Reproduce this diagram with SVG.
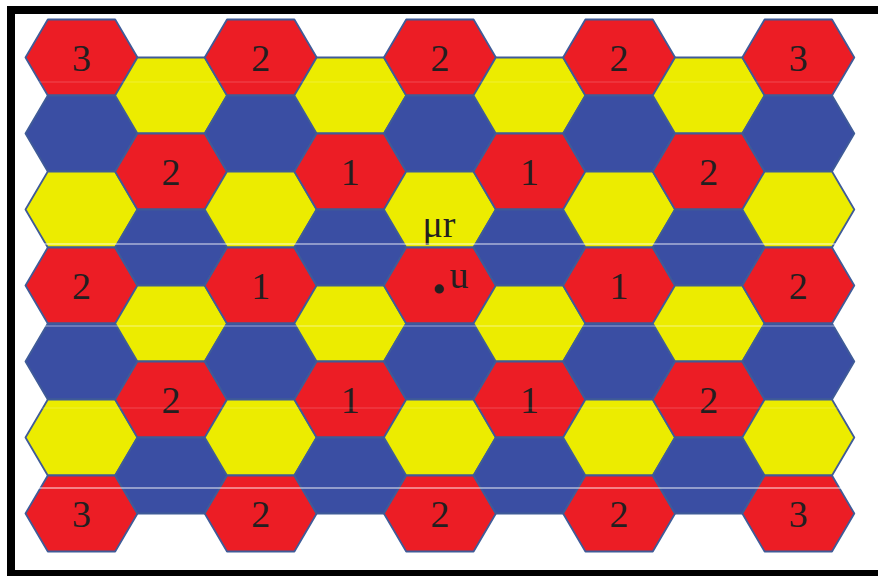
<svg xmlns="http://www.w3.org/2000/svg" xmlns:xlink="http://www.w3.org/1999/xlink" width="878" height="576" viewBox="0 0 878 576">
<style>
.hex{stroke:#3f5b98;stroke-width:1.8;stroke-linejoin:round}
.red .hex{fill:#ec1d25}
.yel .hex{fill:#ecec00}
.blu .hex{fill:#3a4ea3}
.lbl{font-family:"Liberation Serif","Times New Roman",serif;font-size:38px;fill:#231f20;text-anchor:middle}
.art{stroke:#ffffff;stroke-width:1.2}
</style>
<defs>
<polygon id="hx" points="-56,0 -33.7,-38 33.7,-38 56,0 33.7,38 -33.7,38"/>
</defs>
<rect x="0" y="0" width="878" height="576" fill="#ffffff"/>
<g id="frame" fill="#000000">
<rect x="7" y="6" width="8" height="570"/>
<rect x="7" y="6" width="871" height="8"/>
<rect x="7" y="570" width="871" height="6"/>
</g>
<g id="hexes">
<!-- column 0 -->
<g id="c0r0" class="red" transform="translate(81.5,57.5)"><use href="#hx" class="hex"/><text class="lbl" y="13">3</text></g>
<g id="c0r1" class="blu" transform="translate(81.5,133.5)"><use href="#hx" class="hex"/></g>
<g id="c0r2" class="yel" transform="translate(81.5,209.5)"><use href="#hx" class="hex"/></g>
<g id="c0r3" class="red" transform="translate(81.5,285.5)"><use href="#hx" class="hex"/><text class="lbl" y="13">2</text></g>
<g id="c0r4" class="blu" transform="translate(81.5,361.5)"><use href="#hx" class="hex"/></g>
<g id="c0r5" class="yel" transform="translate(81.5,437.5)"><use href="#hx" class="hex"/></g>
<g id="c0r6" class="red" transform="translate(81.5,513.5)"><use href="#hx" class="hex"/><text class="lbl" y="13">3</text></g>
<!-- column 1 -->
<g id="c1r0" class="yel" transform="translate(171.1,95.5)"><use href="#hx" class="hex"/></g>
<g id="c1r1" class="red" transform="translate(171.1,171.5)"><use href="#hx" class="hex"/><text class="lbl" y="13">2</text></g>
<g id="c1r2" class="blu" transform="translate(171.1,247.5)"><use href="#hx" class="hex"/></g>
<g id="c1r3" class="yel" transform="translate(171.1,323.5)"><use href="#hx" class="hex"/></g>
<g id="c1r4" class="red" transform="translate(171.1,399.5)"><use href="#hx" class="hex"/><text class="lbl" y="13">2</text></g>
<g id="c1r5" class="blu" transform="translate(171.1,475.5)"><use href="#hx" class="hex"/></g>
<!-- column 2 -->
<g id="c2r0" class="red" transform="translate(260.7,57.5)"><use href="#hx" class="hex"/><text class="lbl" y="13">2</text></g>
<g id="c2r1" class="blu" transform="translate(260.7,133.5)"><use href="#hx" class="hex"/></g>
<g id="c2r2" class="yel" transform="translate(260.7,209.5)"><use href="#hx" class="hex"/></g>
<g id="c2r3" class="red" transform="translate(260.7,285.5)"><use href="#hx" class="hex"/><text class="lbl" y="13">1</text></g>
<g id="c2r4" class="blu" transform="translate(260.7,361.5)"><use href="#hx" class="hex"/></g>
<g id="c2r5" class="yel" transform="translate(260.7,437.5)"><use href="#hx" class="hex"/></g>
<g id="c2r6" class="red" transform="translate(260.7,513.5)"><use href="#hx" class="hex"/><text class="lbl" y="13">2</text></g>
<!-- column 3 -->
<g id="c3r0" class="yel" transform="translate(350.3,95.5)"><use href="#hx" class="hex"/></g>
<g id="c3r1" class="red" transform="translate(350.3,171.5)"><use href="#hx" class="hex"/><text class="lbl" y="13">1</text></g>
<g id="c3r2" class="blu" transform="translate(350.3,247.5)"><use href="#hx" class="hex"/></g>
<g id="c3r3" class="yel" transform="translate(350.3,323.5)"><use href="#hx" class="hex"/></g>
<g id="c3r4" class="red" transform="translate(350.3,399.5)"><use href="#hx" class="hex"/><text class="lbl" y="13">1</text></g>
<g id="c3r5" class="blu" transform="translate(350.3,475.5)"><use href="#hx" class="hex"/></g>
<!-- column 4 -->
<g id="c4r0" class="red" transform="translate(439.9,57.5)"><use href="#hx" class="hex"/><text class="lbl" y="13">2</text></g>
<g id="c4r1" class="blu" transform="translate(439.9,133.5)"><use href="#hx" class="hex"/></g>
<g id="c4r2" class="yel" transform="translate(439.9,209.5)"><use href="#hx" class="hex"/><text class="lbl" x="-1" y="27.5" font-size="40">μr</text></g>
<g id="c4r3" class="red" transform="translate(439.9,285.5)"><use href="#hx" class="hex"/><text class="lbl" font-size="40"><tspan x="-1" y="6.5" font-weight="bold" stroke="#231f20" stroke-width="3">.</tspan><tspan x="19" y="2.5">u</tspan></text></g>
<g id="c4r4" class="blu" transform="translate(439.9,361.5)"><use href="#hx" class="hex"/></g>
<g id="c4r5" class="yel" transform="translate(439.9,437.5)"><use href="#hx" class="hex"/></g>
<g id="c4r6" class="red" transform="translate(439.9,513.5)"><use href="#hx" class="hex"/><text class="lbl" y="13">2</text></g>
<!-- column 5 -->
<g id="c5r0" class="yel" transform="translate(529.5,95.5)"><use href="#hx" class="hex"/></g>
<g id="c5r1" class="red" transform="translate(529.5,171.5)"><use href="#hx" class="hex"/><text class="lbl" y="13">1</text></g>
<g id="c5r2" class="blu" transform="translate(529.5,247.5)"><use href="#hx" class="hex"/></g>
<g id="c5r3" class="yel" transform="translate(529.5,323.5)"><use href="#hx" class="hex"/></g>
<g id="c5r4" class="red" transform="translate(529.5,399.5)"><use href="#hx" class="hex"/><text class="lbl" y="13">1</text></g>
<g id="c5r5" class="blu" transform="translate(529.5,475.5)"><use href="#hx" class="hex"/></g>
<!-- column 6 -->
<g id="c6r0" class="red" transform="translate(619.1,57.5)"><use href="#hx" class="hex"/><text class="lbl" y="13">2</text></g>
<g id="c6r1" class="blu" transform="translate(619.1,133.5)"><use href="#hx" class="hex"/></g>
<g id="c6r2" class="yel" transform="translate(619.1,209.5)"><use href="#hx" class="hex"/></g>
<g id="c6r3" class="red" transform="translate(619.1,285.5)"><use href="#hx" class="hex"/><text class="lbl" y="13">1</text></g>
<g id="c6r4" class="blu" transform="translate(619.1,361.5)"><use href="#hx" class="hex"/></g>
<g id="c6r5" class="yel" transform="translate(619.1,437.5)"><use href="#hx" class="hex"/></g>
<g id="c6r6" class="red" transform="translate(619.1,513.5)"><use href="#hx" class="hex"/><text class="lbl" y="13">2</text></g>
<!-- column 7 -->
<g id="c7r0" class="yel" transform="translate(708.7,95.5)"><use href="#hx" class="hex"/></g>
<g id="c7r1" class="red" transform="translate(708.7,171.5)"><use href="#hx" class="hex"/><text class="lbl" y="13">2</text></g>
<g id="c7r2" class="blu" transform="translate(708.7,247.5)"><use href="#hx" class="hex"/></g>
<g id="c7r3" class="yel" transform="translate(708.7,323.5)"><use href="#hx" class="hex"/></g>
<g id="c7r4" class="red" transform="translate(708.7,399.5)"><use href="#hx" class="hex"/><text class="lbl" y="13">2</text></g>
<g id="c7r5" class="blu" transform="translate(708.7,475.5)"><use href="#hx" class="hex"/></g>
<!-- column 8 -->
<g id="c8r0" class="red" transform="translate(798.3,57.5)"><use href="#hx" class="hex"/><text class="lbl" y="13">3</text></g>
<g id="c8r1" class="blu" transform="translate(798.3,133.5)"><use href="#hx" class="hex"/></g>
<g id="c8r2" class="yel" transform="translate(798.3,209.5)"><use href="#hx" class="hex"/></g>
<g id="c8r3" class="red" transform="translate(798.3,285.5)"><use href="#hx" class="hex"/><text class="lbl" y="13">2</text></g>
<g id="c8r4" class="blu" transform="translate(798.3,361.5)"><use href="#hx" class="hex"/></g>
<g id="c8r5" class="yel" transform="translate(798.3,437.5)"><use href="#hx" class="hex"/></g>
<g id="c8r6" class="red" transform="translate(798.3,513.5)"><use href="#hx" class="hex"/><text class="lbl" y="13">3</text></g>
</g>
<g id="scanlines">
<line class="art" x1="24" y1="244" x2="856" y2="244" opacity="0.85"/>
<line class="art" x1="24" y1="326" x2="856" y2="326" opacity="0.5"/>
<line class="art" x1="24" y1="488" x2="856" y2="488" opacity="0.9"/>
<line class="art" x1="24" y1="82" x2="856" y2="82" opacity="0.2"/>
<line class="art" x1="24" y1="408" x2="856" y2="408" opacity="0.2"/>
</g>
</svg>
